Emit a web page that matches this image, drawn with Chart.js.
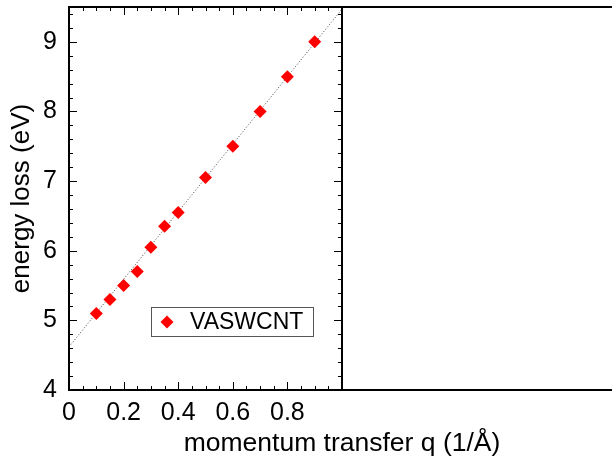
<!DOCTYPE html>
<html>
<head>
<meta charset="utf-8">
<script src="https://cdn.jsdelivr.net/npm/chart.js@4"></script>
<style>
  html, body { margin: 0; padding: 0; background: #fff; }
  #wrap { width: 612px; height: 461px; }
</style>
</head>
<body>
<div id="wrap"><canvas id="chart" width="612" height="461"></canvas></div>
<script>
// data
const qValues = [0.1, 0.15, 0.2, 0.25, 0.3, 0.35, 0.4, 0.5, 0.6, 0.7, 0.8, 0.9];
const lossValues = [5.1, 5.3, 5.5, 5.7, 6.05, 6.35, 6.55, 7.05, 7.5, 8.0, 8.5, 9.0];
// dotted linear fit
const fitQ = [0, 1.0];
const fitLoss = [4.62, 9.47];
const xTickLabels = ['0', '0.2', '0.4', '0.6', '0.8'];
const yTickLabels = ['4', '5', '6', '7', '8', '9'];
const seriesName = 'VASWCNT';
const xTitle = 'momentum transfer q (1/Å)';

const FONT = "'Liberation Sans', Arial, sans-serif";

// inward ticks on all four sides + right empty panel frame + legend + x title
const frameTicks = {
  id: 'frameTicks',
  afterDraw(chart) {
    const { ctx, chartArea: a, scales } = chart;
    const x = scales.x, y = scales.y;
    ctx.save();
    ctx.strokeStyle = '#000';
    ctx.lineWidth = 1;
    ctx.beginPath();
    for (let i = 0; i <= 20; i++) {
      const v = i * 0.05;
      const px = Math.round(x.getPixelForValue(v)) + 0.5;
      const len = (i % 4 === 0) ? 8 : 4;
      ctx.moveTo(px, a.bottom); ctx.lineTo(px, a.bottom - len);
      ctx.moveTo(px, a.top); ctx.lineTo(px, a.top + len);
    }
    for (let i = 0; i <= 27; i++) {
      const v = 4 + i * 0.2;
      if (v > 9.5) break;
      const py = Math.round(y.getPixelForValue(v)) + 0.5;
      const len = (i % 5 === 0) ? 8 : 4;
      ctx.moveTo(a.left, py); ctx.lineTo(a.left + len, py);
      ctx.moveTo(a.right, py); ctx.lineTo(a.right - len, py);
    }
    ctx.stroke();

    // frame
    ctx.lineWidth = 2;
    ctx.strokeRect(a.left, a.top, a.right - a.left, a.bottom - a.top);
    // empty neighbour panel
    ctx.beginPath();
    ctx.moveTo(a.right, a.top); ctx.lineTo(chart.width, a.top);
    ctx.moveTo(a.right, a.bottom); ctx.lineTo(chart.width, a.bottom);
    ctx.stroke();

    // legend box
    const lx = Math.round(x.getPixelForValue(0.3)), ly = Math.round(y.getPixelForValue(5.19));
    ctx.lineWidth = 1;
    ctx.strokeStyle = '#555';
    ctx.strokeRect(lx + 0.5, ly + 0.5, 162, 29);
    const ds = chart.data.datasets[0];
    ctx.fillStyle = ds.backgroundColor;
    ctx.beginPath();
    ctx.moveTo(lx + 16, ly + 8.5);
    ctx.lineTo(lx + 22.5, ly + 15);
    ctx.lineTo(lx + 16, ly + 21.5);
    ctx.lineTo(lx + 9.5, ly + 15);
    ctx.closePath();
    ctx.fill();
    ctx.fillStyle = '#000';
    ctx.font = '23px ' + FONT;
    ctx.textBaseline = 'middle';
    ctx.fillText(seriesName, lx + 39, ly + 16);

    // x axis title, centred under both panels
    ctx.font = '26.5px ' + FONT;
    ctx.textAlign = 'center';
    ctx.fillText(xTitle, a.right, 444);
    ctx.restore();
  }
};

new Chart(document.getElementById('chart'), {
  type: 'scatter',
  data: {
    datasets: [
      {
        label: seriesName,
        data: qValues.map((q, i) => ({ x: q, y: lossValues[i] })),
        backgroundColor: '#ff0000',
        borderColor: '#ff0000',
        pointStyle: 'rectRot',
        pointRadius: 6.5,
        borderWidth: 0
      },
      {
        type: 'line',
        label: 'fit',
        data: fitQ.map((q, i) => ({ x: q, y: fitLoss[i] })),
        borderColor: '#444',
        borderWidth: 1,
        borderDash: [1, 2],
        pointRadius: 0,
        fill: false
      }
    ]
  },
  options: {
    responsive: false,
    animation: false,
    layout: { padding: { top: 7, right: 270, left: 0, bottom: 0 } },
    plugins: { legend: { display: false }, tooltip: { enabled: false } },
    scales: {
      x: {
        type: 'linear',
        min: 0, max: 1,
        afterBuildTicks(s) {
          s.ticks = xTickLabels.map(t => ({ value: parseFloat(t) }));
        },
        afterFit(s) { s.height = 71; s.paddingLeft = 0; s.paddingRight = 0; },
        grid: { display: false, drawTicks: false },
        border: { display: false },
        ticks: {
          color: '#000',
          padding: 8,
          maxRotation: 0,
          font: { family: FONT, size: 25 },
          callback: (v) => xTickLabels.find(t => parseFloat(t) === v) || ''
        },
        title: { display: false }
      },
      y: {
        type: 'linear',
        min: 4, max: 9.5,
        afterBuildTicks(s) {
          s.ticks = yTickLabels.map(t => ({ value: parseFloat(t) }));
        },
        afterFit(s) { s.width = 69; s.paddingTop = 0; s.paddingBottom = 0; },
        grid: { display: false, drawTicks: false },
        border: { display: false },
        ticks: {
          color: '#000',
          padding: 12,
          font: { family: FONT, size: 25 },
          callback: (v) => String(v)
        },
        title: {
          display: true,
          text: 'energy loss (eV)',
          color: '#000',
          font: { family: FONT, size: 26 },
          padding: { top: 6, bottom: 0 }
        }
      }
    }
  },
  plugins: [frameTicks]
});
</script>
</body>
</html>
